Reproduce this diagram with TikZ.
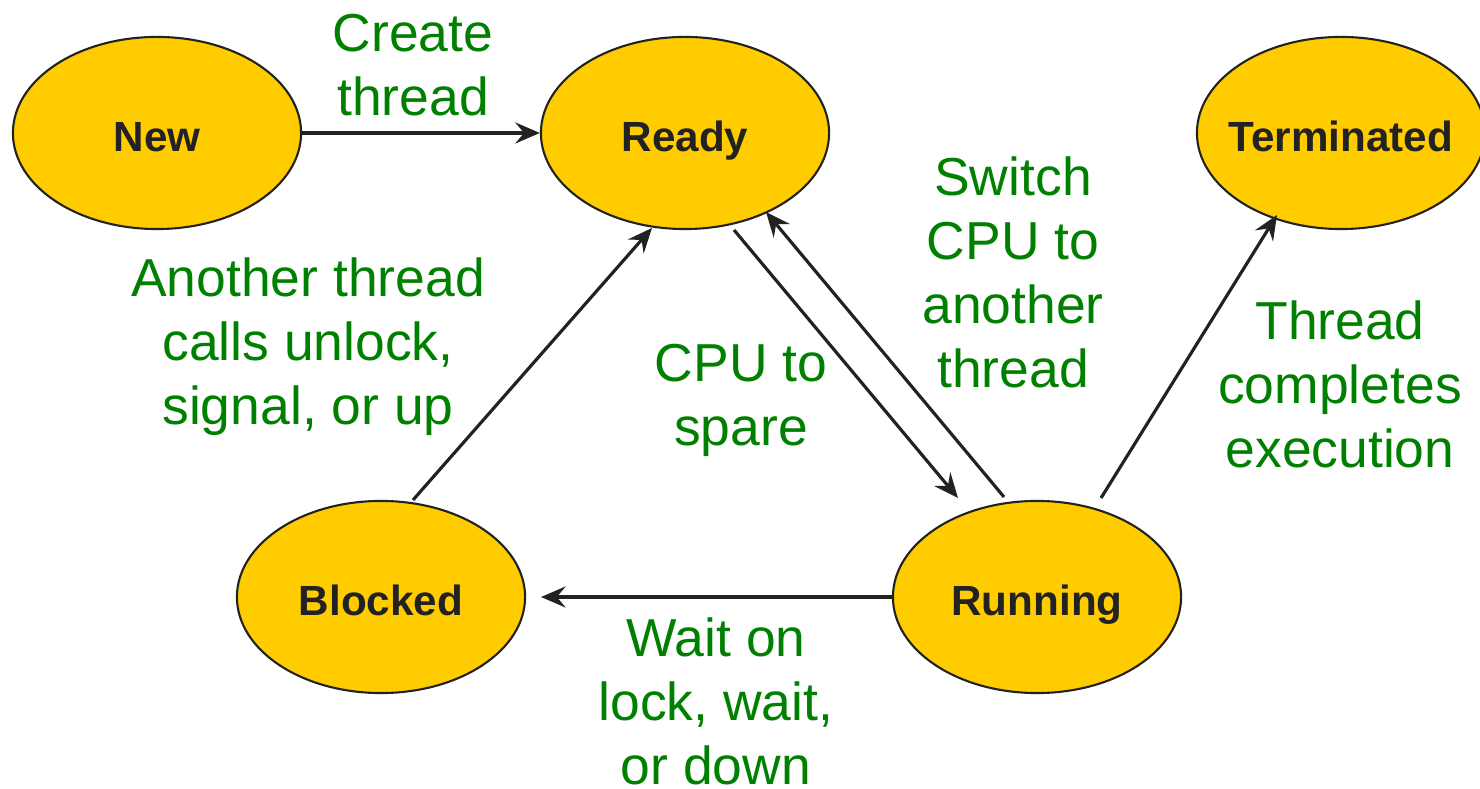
\documentclass[tikz,border=0pt]{standalone}
\usepackage{fontspec}
\setmainfont{Liberation Sans}
\usetikzlibrary{shapes.geometric,arrows.meta,calc}
\definecolor{stfill}{HTML}{FFCC00}
\definecolor{stline}{HTML}{222222}
\definecolor{lblgreen}{HTML}{008000}
\tikzset{
  state/.style={ellipse, draw=stline, line width=0.6pt, fill=stfill, inner sep=0pt,
    minimum width=2.88cm, minimum height=1.92cm, text height=0.36cm, text depth=0pt,
    font=\fontsize{12pt}{14pt}\selectfont\bfseries, text=stline},
  arr/.style={draw=stline, line width=0.9pt, -{Stealth[length=7pt,width=6pt,inset=2.5pt]}},
  lbl/.style={text=lblgreen, align=center, inner sep=0pt, font=\fontsize{15.2pt}{18.2pt}\selectfont}
}
\begin{document}
\begin{tikzpicture}[x=0.01cm,y=-0.01cm]
\useasboundingbox (0,0) rectangle (1480,789);
\node[state] (new) at (157,133) {New};
\node[state] (ready) at (685,133) {Ready};
\node[state] (term) at (1341,133) {\makebox[1.5cm][c]{Terminated}};
\node[state] (blocked) at (381,597) {Blocked};
\node[state] (running) at (1037,597) {Running};

\draw[arr] (new.east) -- (ready.west);
\draw[arr] ($(blocked)+(32,-97)$) -- ($(ready)+(-33,95)$);
\draw[arr] ($(ready)+(49,97)$) -- ($(running)+(-79,-99)$);
\draw[arr] ($(running)+(-33,-100)$) -- ($(ready)+(81,79)$);
\draw[arr] ($(running)+(64,-99)$) -- ($(term)+(-64,82)$);
\draw[arr] (running.west) -- ($(blocked)+(160,0)$);

\node[lbl] (l1) at (413,65) {Create\\thread};
\node[lbl] (l2) at (308,347) {Another thread\\calls unlock,\\signal, or up};
\node[lbl] (l3) at (741,400) {CPU to\\spare};
\node[lbl] (l4) at (1013,272) {Switch\\CPU to\\another\\thread};
\node[lbl] (l5) at (1340,384) {Thread\\completes\\execution};
\node[lbl] (l6) at (716,701) {Wait on\\lock, wait,\\or down};
\end{tikzpicture}
\end{document}
